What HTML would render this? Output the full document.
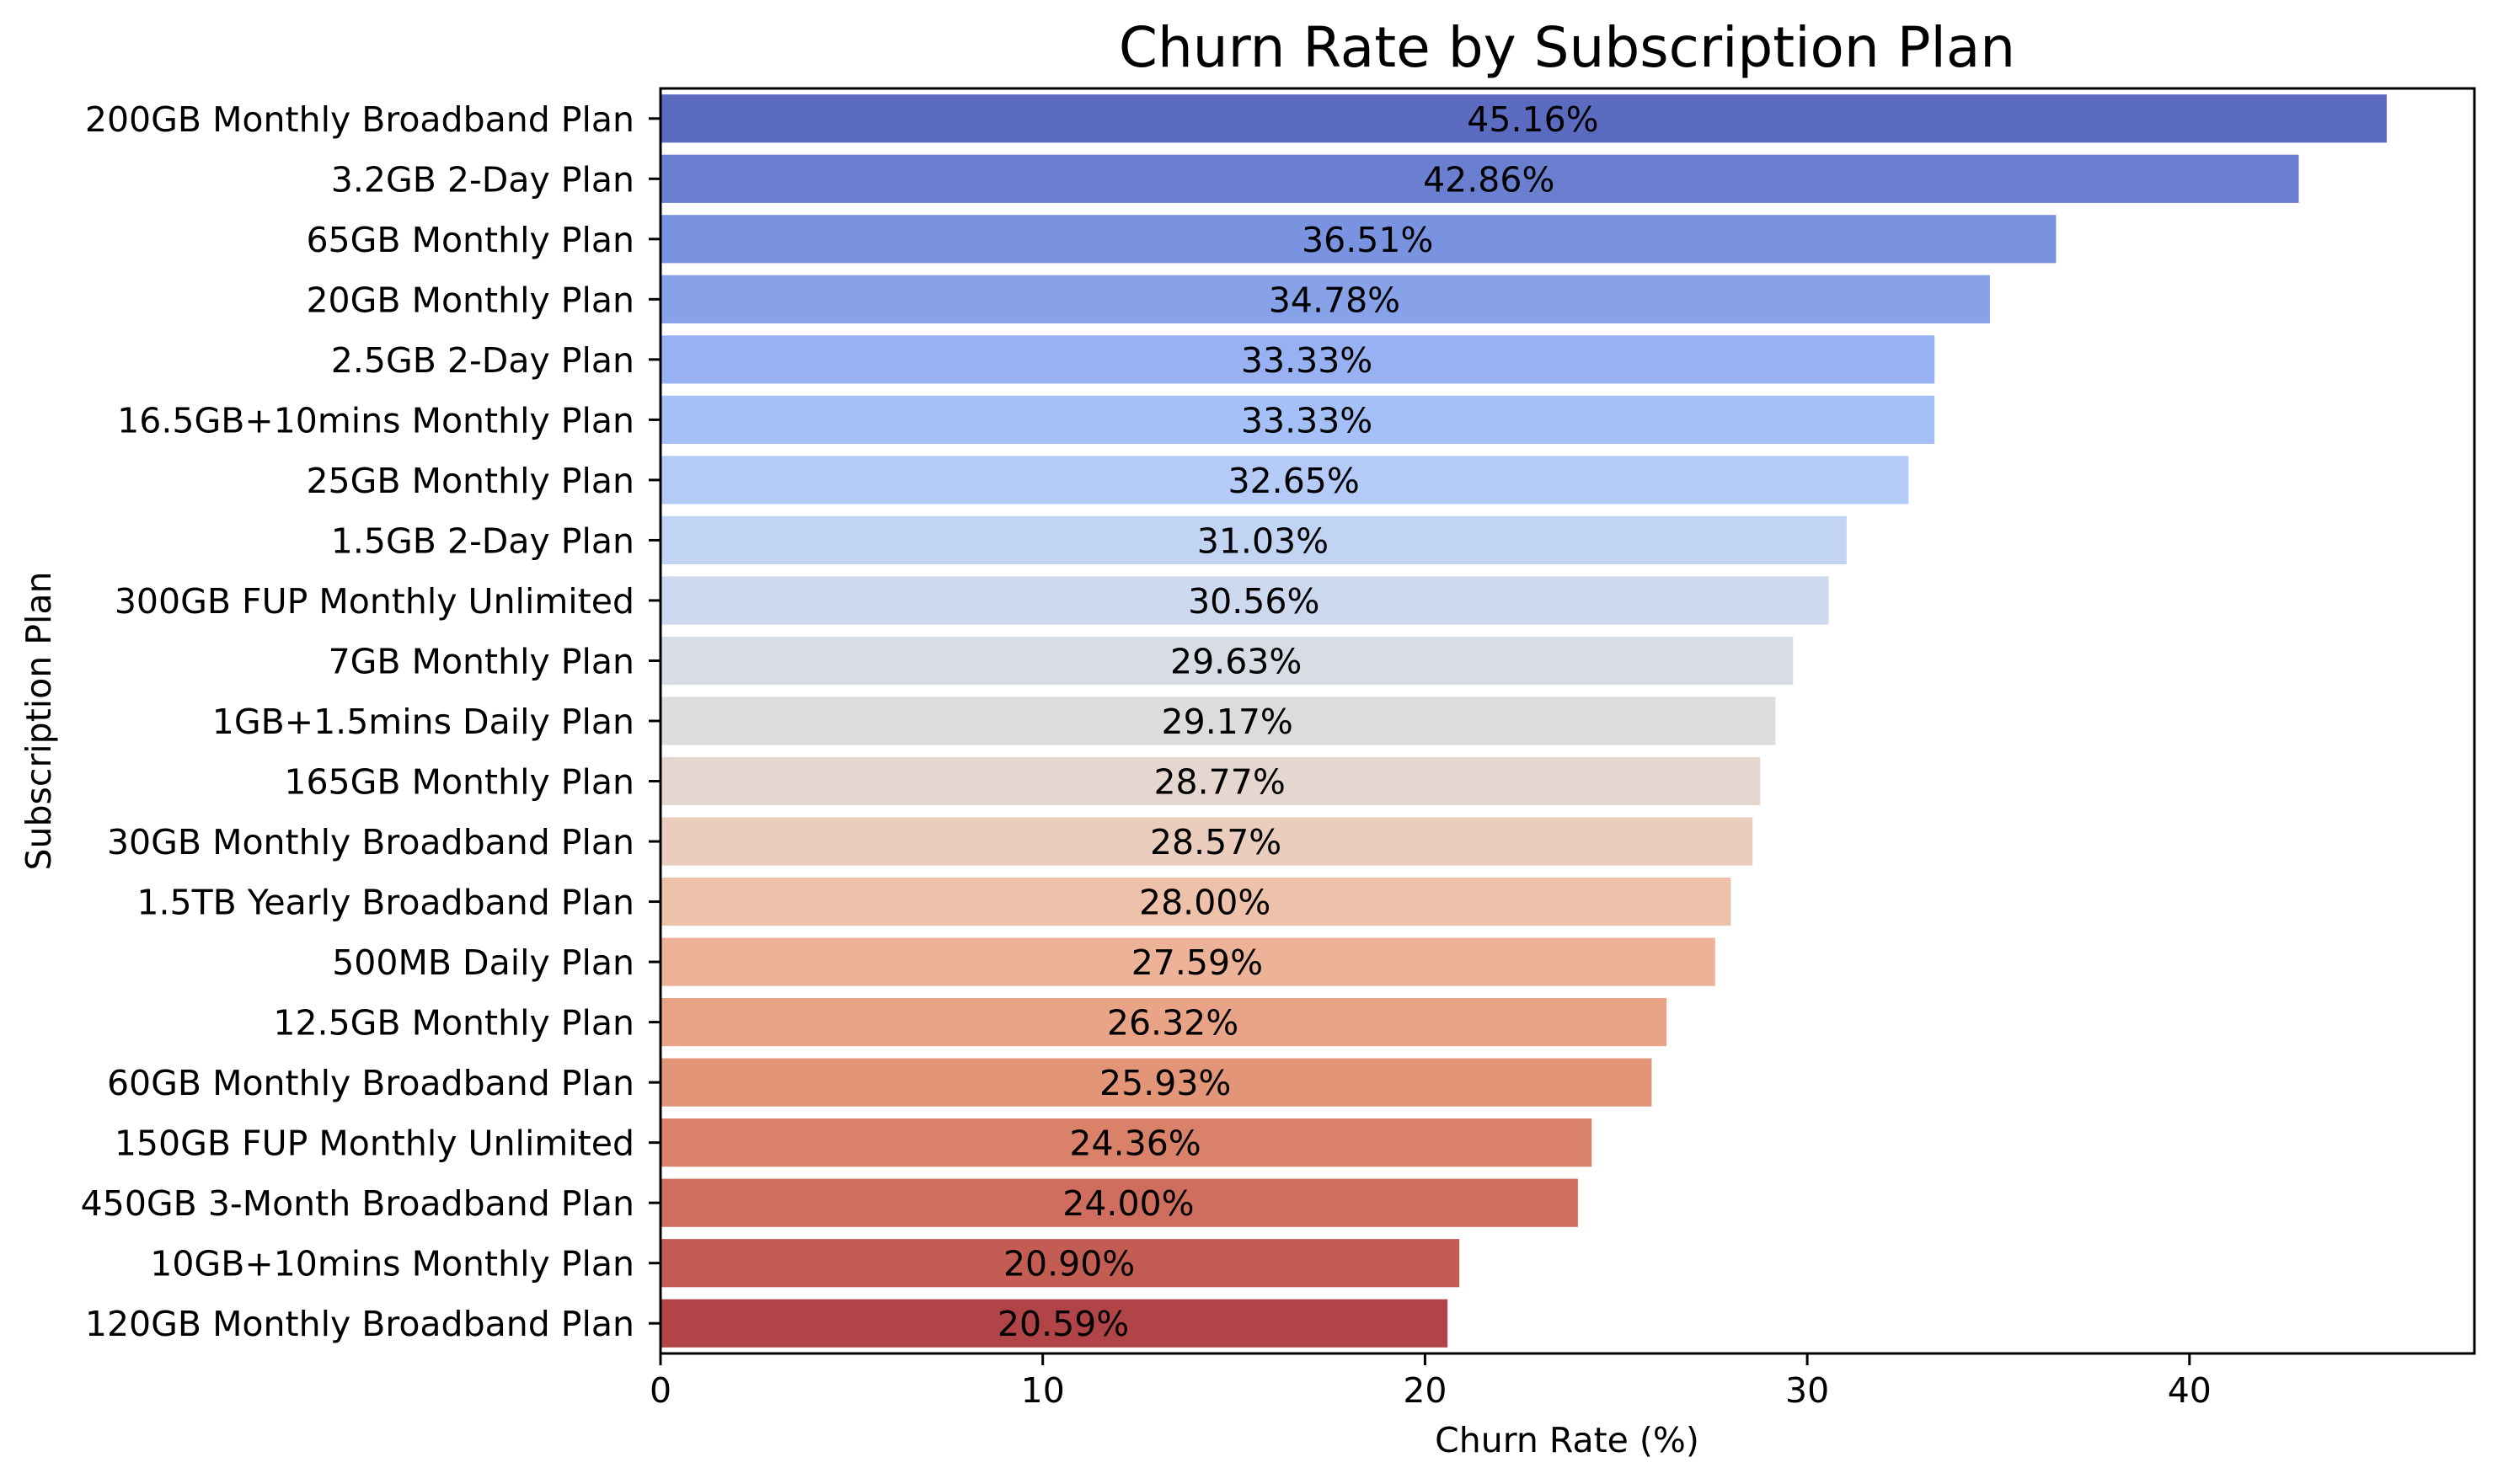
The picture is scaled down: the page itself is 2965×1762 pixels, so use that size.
<!DOCTYPE html>
<html><head><meta charset="utf-8"><style>
html,body{margin:0;padding:0;background:#fff}
svg{display:block;font-family:"DejaVu Sans","Liberation Sans",sans-serif}
</style></head><body>
<svg id="chart" width="2965" height="1762" viewBox="0 0 2965 1762">
<text x="1860" y="79" font-size="66" text-anchor="middle">Churn Rate by Subscription Plan</text>
<text x="1860" y="1724" font-size="41" text-anchor="middle">Churn Rate (%)</text>
<text transform="translate(60,856) rotate(-90)" font-size="41" text-anchor="middle">Subscription Plan</text>
<g id="bars"></g>
<g id="axes"></g>
</svg>
<script>
const categories = ["200GB Monthly Broadband Plan","3.2GB 2-Day Plan","65GB Monthly Plan","20GB Monthly Plan","2.5GB 2-Day Plan","16.5GB+10mins Monthly Plan","25GB Monthly Plan","1.5GB 2-Day Plan","300GB FUP Monthly Unlimited","7GB Monthly Plan","1GB+1.5mins Daily Plan","165GB Monthly Plan","30GB Monthly Broadband Plan","1.5TB Yearly Broadband Plan","500MB Daily Plan","12.5GB Monthly Plan","60GB Monthly Broadband Plan","150GB FUP Monthly Unlimited","450GB 3-Month Broadband Plan","10GB+10mins Monthly Plan","120GB Monthly Broadband Plan"];
const churnValues = [45.16,42.86,36.51,34.78,33.33,33.33,32.65,31.03,30.56,29.63,29.17,28.77,28.57,28.00,27.59,26.32,25.93,24.36,24.00,20.90,20.59];
const xTicks = [0,10,20,30,40];
const barColors = ["#5b6bbf","#6a7fd0","#7a93e0","#88a2ea","#97b1f2","#a5c0f7","#b4cbf8","#c2d4f3","#ccd9ee","#d7dce5","#dddcdc","#e5d7d0","#ebcdbd","#eec2aa","#edb398","#e9a386","#e39577","#da8269","#cf6e5e","#c35c53","#b14446"];

const L=784,R=2937,T=105,B=1607;
const xMax=(R-L)/45.37;
const xs=v=>L+(v/xMax)*(R-L);
const band=(B-T)/categories.length;
const yc=i=>T+band*(i+0.5);
const NS="http://www.w3.org/2000/svg";
const bars=document.getElementById('bars'), axes=document.getElementById('axes');
function mk(tag,attrs,parent){const e=document.createElementNS(NS,tag);for(const k in attrs)e.setAttribute(k,attrs[k]);parent.appendChild(e);return e;}

categories.forEach((c,i)=>{
  const v=churnValues[i], h=band*0.8;
  const r=mk('rect',{x:L,y:yc(i)-h/2,width:xs(v)-L,height:h,fill:barColors[i]},bars);
  
  
  const t=mk('text',{x:(L+xs(v))/2+11,y:yc(i)+15,'font-size':41,'text-anchor':'middle'},bars);
  t.textContent=v.toFixed(2)+'%';
  
  
  const tk=mk('line',{x1:L-14,x2:L,y1:yc(i),y2:yc(i),stroke:'#000','stroke-width':3},axes);
  
  
  const lb=mk('text',{x:L-31,y:yc(i)+15,'font-size':41,'text-anchor':'end'},axes);
  lb.textContent=c;
  
  
});
xTicks.forEach(v=>{
  const tk=mk('line',{x1:xs(v),x2:xs(v),y1:B,y2:B+14,stroke:'#000','stroke-width':3},axes);
  
  
  const lb=mk('text',{x:xs(v),y:B+58,'font-size':41,'text-anchor':'middle'},axes);
  lb.textContent=v;
  
  
});
const fr=mk('rect',{x:L,y:T,width:R-L,height:B-T,fill:'none',stroke:'#000','stroke-width':3},axes);


</script>
</body></html>
